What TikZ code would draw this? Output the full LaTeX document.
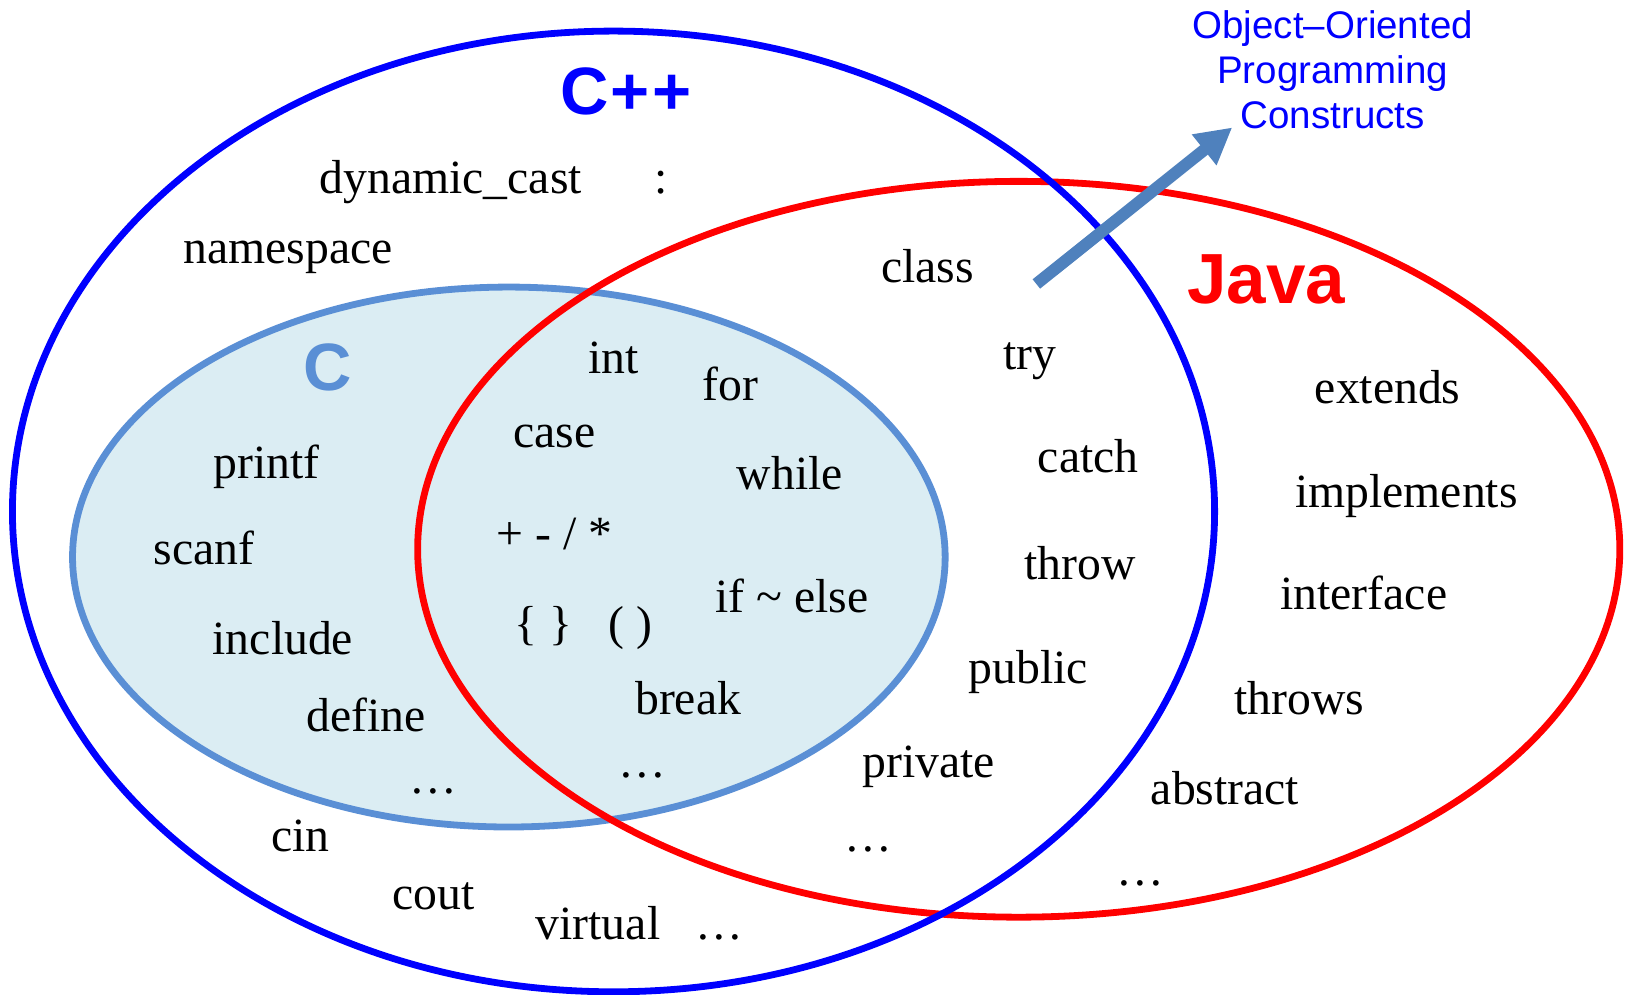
\documentclass[tikz,border=0pt]{standalone}
\usepackage{fontspec}
\setmainfont{Liberation Serif}
\newfontfamily\hdfont{Liberation Sans}
\usetikzlibrary{arrows.meta}
\definecolor{cppblue}{HTML}{0000FF}
\definecolor{javared}{HTML}{FF0000}
\definecolor{cstroke}{HTML}{5A8FD5}
\definecolor{cfill}{HTML}{DBEDF3}
\definecolor{arrblue}{HTML}{4F81BD}
\tikzset{
  word/.style={anchor=base, inner sep=0pt, font=\fontsize{47.7}{52}\selectfont},
  langlabel/.style={anchor=center, inner sep=0pt, font=\hdfont\bfseries\fontsize{67}{70}\selectfont},
  oolabel/.style={anchor=center, inner sep=0pt, align=center, text=cppblue, font=\hdfont\fontsize{38.5}{45}\selectfont},
  ring/.style={line width=6.8pt},
  ooarrow/.style={draw=arrblue, line width=12pt, -{Triangle[length=36pt, width=37pt]}}
}
\begin{document}
\begin{tikzpicture}[x=1.0364pt, y=-1.0364pt]
\useasboundingbox (0,0) rectangle (1568,960);
% ellipses
\draw[ring, draw=cstroke, fill=cfill] (491,537.5) ellipse [x radius=421, y radius=260.5];
\draw[ring, draw=javared] (983,530) ellipse [x radius=580, y radius=355];
\draw[ring, draw=cppblue] (592,493.5) ellipse [x radius=580, y radius=463.5];
% language labels
\node[langlabel, text=cppblue] (cpp) at (604,88) {C\kern2pt+\kern2pt+};
\node[langlabel, text=javared, font=\hdfont\bfseries\fontsize{71}{74}\selectfont] (java) at (1222,270) {Java};
\node[langlabel, text=cstroke] (clang) at (316,355) {C};
% title
\node[oolabel] (oo) at (1286,67) {Object–Oriented\\Programming\\Constructs};
% arrow
\coordinate (arrtail) at (1000,274);
\coordinate (arrtip) at (1189,123);
\draw[ooarrow] (arrtail) -- (arrtip);
% C++ only
\node[word] (w1) at (435,187) {dynamic\_cast};
\node[word] (w2) at (638,187) {:};
\node[word] (w3) at (278,254) {namespace};
\node[word] (w4) at (290,822) {cin};
\node[word] (w5) at (418,878) {cout};
\node[word] (w6) at (577,907) {virtual};
\node[word] (w7) at (694,907) {…};
% C only
\node[word] (w8) at (257,462) {printf};
\node[word] (w9) at (197,545) {scanf};
\node[word] (w10) at (273,632) {include};
\node[word] (w11) at (353,706) {define};
\node[word] (w12) at (418,766) {…};
% shared C / C++ / Java
\node[word] (w13) at (592,360) {int};
\node[word] (w14) at (705,386) {for};
\node[word] (w15) at (535,432) {case};
\node[word] (w16) at (762,472) {while};
\node[word] (w17) at (535,530) {+ - / *};
\node[word] (w18) at (764,591) {if \textasciitilde{} else};
\node[word] (w19) at (563,617) {\{ \}\ \ \ ( )};
\node[word] (w20) at (664,689) {break};
\node[word] (w21) at (620,750) {…};
% C++ and Java
\node[word] (w22) at (895,273) {class};
\node[word] (w23) at (994,357) {try};
\node[word] (w24) at (1050,456) {catch};
\node[word] (w25) at (1042,559) {throw};
\node[word] (w26) at (992,660) {public};
\node[word] (w27) at (896,750) {private};
\node[word] (w28) at (838,822) {…};
% Java only
\node[word] (w29) at (1339,389) {extends};
\node[word] (w30) at (1357,490) {implements};
\node[word] (w31) at (1316,588) {interface};
\node[word] (w32) at (1254,689) {throws};
\node[word] (w33) at (1182,776) {abstract};
\node[word] (w34) at (1100,854) {…};
\end{tikzpicture}
\end{document}
